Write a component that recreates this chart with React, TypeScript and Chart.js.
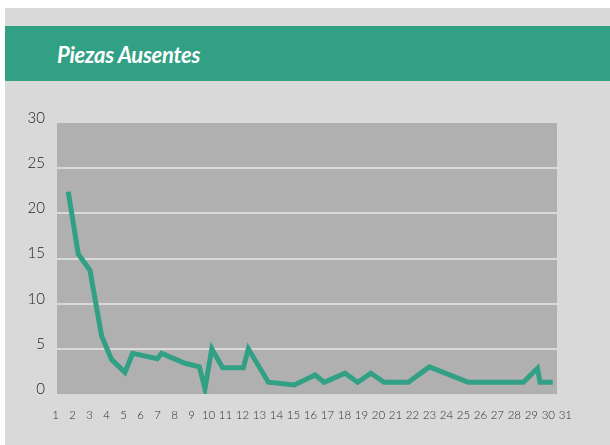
import React, { useEffect, useRef } from "react";
import { Chart, registerables } from "chart.js";

Chart.register(...registerables);

const chartTitle = "Piezas Ausentes";

// x positions (in day units along the axis) and values
const dayPositions = [
  1.74, 2.33, 3.02, 3.71, 4.3, 5.08, 5.53, 6.98, 7.24, 8.61, 9.46, 9.79, 10.19,
  10.83, 12.05, 12.34, 13.52, 15.05, 16.27, 16.81, 18.03, 18.78, 19.55, 20.33,
  21.76, 23.0, 25.29, 28.53, 29.36, 29.51, 30.26,
];
const missingPieces = [
  22.4, 15.5, 13.7, 6.4, 3.8, 2.4, 4.5, 3.9, 4.5, 3.4, 3.0, 0.6, 5.0, 2.9, 2.9,
  5.0, 1.3, 1.0, 2.1, 1.3, 2.3, 1.3, 2.3, 1.3, 1.3, 3.0, 1.3, 1.3, 2.85, 1.3,
  1.3,
];
const xTickLabels = [
  1, 2, 3, 4, 5, 6, 7, 8, 9, 10, 11, 12, 13, 14, 15, 16, 17, 18, 19, 20, 21, 22,
  23, 24, 25, 26, 27, 28, 29, 30, 31,
];
const yTickValues = [0, 5, 10, 15, 20, 25, 30];

const GREEN = "#32a085";
const PAGE_BG = "#d9d9d9";
const PLOT_BG = "#b0b0b0";

const plotBackground = {
  id: "plotBackground",
  beforeDraw(chart: any) {
    const { ctx, chartArea } = chart;
    if (!chartArea) return;
    ctx.save();
    ctx.fillStyle = PLOT_BG;
    ctx.fillRect(
      chartArea.left,
      chartArea.top,
      chartArea.right - chartArea.left,
      chartArea.bottom - chartArea.top
    );
    ctx.restore();
  },
};

function LineChart() {
  const ref = useRef<HTMLCanvasElement | null>(null);
  useEffect(() => {
    if (!ref.current) return;
    const points = dayPositions.map((x, i) => ({ x, y: missingPieces[i] }));
    const chart = new Chart(ref.current, {
      type: "line",
      data: {
        datasets: [
          {
            label: chartTitle,
            data: points,
            borderColor: GREEN,
            backgroundColor: GREEN,
            borderWidth: 5,
            pointRadius: 0,
            pointHoverRadius: 0,
            tension: 0,
            fill: false,
            borderJoinStyle: "miter",
          },
        ],
      },
      options: {
        animation: false,
        responsive: false,
        events: [],
        layout: { padding: { top: 42, right: 53, bottom: 21, left: 0 } },
        plugins: {
          legend: { display: false },
          tooltip: { enabled: false },
          title: { display: false },
        },
        scales: {
          x: {
            type: "linear",
            min: 1.08,
            max: 30.51,
            grid: { display: false },
            border: { display: false },
            afterBuildTicks: (scale: any) => {
              scale.ticks = xTickLabels.map((v) => ({ value: v }));
            },
            afterFit: (scale: any) => {
              scale.height = 30;
            },
            ticks: {
              autoSkip: false,
              maxRotation: 0,
              minRotation: 0,
              padding: 6,
              color: "#2e2e2e",
              font: { family: "Lato", size: 11.5, weight: "300" },
              callback: (v: any) => String(v),
            },
          },
          y: {
            min: 0,
            max: 30,
            afterBuildTicks: (scale: any) => {
              scale.ticks = yTickValues.map((v) => ({ value: v }));
            },
            afterFit: (scale: any) => {
              scale.width = 52;
            },
            grid: {
              drawTicks: false,
              lineWidth: 2,
              color: (ctx: any) =>
                ctx.tick && (ctx.tick.value === 0 || ctx.tick.value === 30)
                  ? "rgba(0,0,0,0)"
                  : PAGE_BG,
            },
            border: { display: false },
            ticks: {
              padding: 12,
              labelOffset: -5,
              color: "#222222",
              font: { family: "Lato", size: 15, weight: "300" },
              callback: (v: any) => String(v),
            },
          },
        },
      },
      plugins: [plotBackground],
    });
    return () => chart.destroy();
  }, []);
  return (
    <canvas
      ref={ref}
      width={605}
      height={364}
      style={{ display: "block", width: 605, height: 364 }}
    />
  );
}

export default function App() {
  return (
    <div
      style={{
        position: "absolute",
        left: 5,
        top: 8,
        width: 605,
        height: 437,
        background: PAGE_BG,
        overflow: "hidden",
      }}
    >
      <div
        style={{
          position: "absolute",
          left: 0,
          top: 18,
          width: 605,
          height: 55,
          background: GREEN,
        }}
      >
        <span
          style={{
            position: "absolute",
            left: 52,
            top: 16,
            fontFamily: "Lato",
            fontWeight: 700,
            fontStyle: "italic",
            fontSize: 22,
            lineHeight: "26px",
            color: "#ffffff",
            letterSpacing: "-0.3px",
            whiteSpace: "nowrap",
          }}
        >
          {chartTitle}
        </span>
      </div>
      <div style={{ position: "absolute", left: 0, top: 73 }}>
        <LineChart />
      </div>
    </div>
  );
}
